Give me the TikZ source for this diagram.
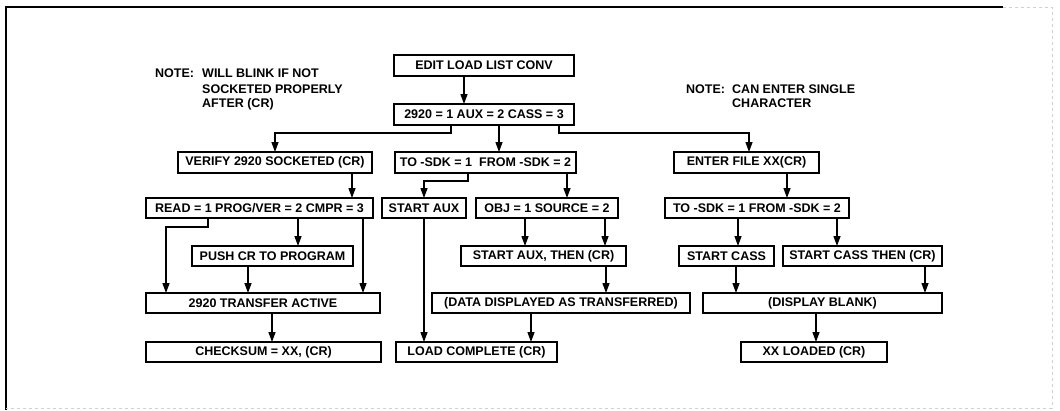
\documentclass[tikz,border=0pt]{standalone}
\usepackage{fontspec}
\setmainfont{Liberation Sans}
\usetikzlibrary{arrows.meta}
\begin{document}
\begin{tikzpicture}[x=1pt,y=-1pt,
  box/.style={draw=black, line width=1.9pt, fill=white, inner sep=0pt, outer sep=0pt,
    font=\bfseries\fontsize{12.5}{14}\selectfont, align=center},
  notetext/.style={inner sep=0pt, anchor=base west, font=\bfseries\fontsize{12.5}{14}\selectfont},
  arr/.style={draw=black, line width=1.3pt, -{Triangle[length=10pt,width=7pt]}},
  frame/.style={draw=black, line width=1.6pt},
  faint/.style={draw=black!18, line width=0.8pt, dashed}]
\useasboundingbox (0,0) rectangle (1060,410);
% frame
\draw[frame] (1003,7) -- (6,7) -- (6,410);
\draw[faint] (1003,7) -- (1052,7) -- (1052,408) -- (6,408);
% notes
\node[notetext] (n1a) at (155,77.5) {NOTE:};
\node[notetext] (n1b) at (202,77.5) {WILL BLINK IF NOT};
\node[notetext] (n1c) at (202,93) {SOCKETED PROPERLY};
\node[notetext] (n1d) at (202,107.5) {AFTER (CR)};
\node[notetext] (n2a) at (686,93) {NOTE:};
\node[notetext] (n2b) at (732,93) {CAN ENTER SINGLE};
\node[notetext] (n2c) at (732,107.5) {CHARACTER};
% boxes
\node[box, minimum width=180, minimum height=21] (edit) at (484,65.5) {EDIT LOAD LIST CONV};
\node[box, minimum width=180, minimum height=21] (sel) at (484,114.5) {2920 = 1 AUX = 2 CASS = 3};
\node[box, minimum width=194, minimum height=21] (verify) at (275,162.5) {VERIFY 2920 SOCKETED (CR)};
\node[box, minimum width=181, minimum height=21] (tosdka) at (485.5,162.5) {TO -SDK = 1\ \ FROM -SDK = 2};
\node[box, minimum width=145, minimum height=21] (enter) at (746.5,162.5) {ENTER FILE XX(CR)};
\node[box, minimum width=227, minimum height=20] (read) at (259.5,208) {READ = 1 PROG/VER = 2 CMPR = 3};
\node[box, minimum width=84, minimum height=20] (saux) at (424,208) {START AUX};
\node[box, minimum width=142, minimum height=20] (obj) at (547,208) {OBJ = 1 SOURCE = 2};
\node[box, minimum width=184, minimum height=20] (tosdkb) at (757,208) {TO -SDK = 1 FROM -SDK = 2};
\node[box, minimum width=161, minimum height=20] (push) at (272.5,256) {PUSH CR TO PROGRAM};
\node[box, minimum width=165, minimum height=20] (sauxt) at (543.5,256) {START AUX, THEN (CR)};
\node[box, minimum width=95, minimum height=20] (scass) at (726.5,256) {START CASS};
\node[box, minimum width=159, minimum height=20] (scasst) at (862.5,256) {START CASS THEN (CR)};
\node[box, minimum width=234, minimum height=20] (trans) at (263,303) {2920 TRANSFER ACTIVE};
\node[box, minimum width=258, minimum height=20] (data) at (561,303) {(DATA DISPLAYED AS TRANSFERRED)};
\node[box, minimum width=239, minimum height=20] (blank) at (822.5,303) {(DISPLAY BLANK)};
\node[box, minimum width=235, minimum height=20] (check) at (263.5,352) {CHECKSUM = XX, (CR)};
\node[box, minimum width=161, minimum height=20] (loadc) at (476.5,352) {LOAD COMPLETE (CR)};
\node[box, minimum width=146, minimum height=20] (xxl) at (814,352) {XX LOADED (CR)};
% connectors
\draw[arr] (edit.south -| 464,0) -- (sel.north -| 464,0);
\draw[arr] (sel.south -| 451,0) -- (451,133) -| (verify.north);
\draw[arr] (sel.south -| 499,0) -- (tosdka.north -| 499,0);
\draw[arr] (sel.south -| 559,0) -- (559,133) -| (enter.north -| 749,0);
\draw[arr] (verify.south -| 352,0) -- (read.north -| 352,0);
\draw[arr] (tosdka.south -| 468,0) -- (468,181) -| (saux.north);
\draw[arr] (tosdka.south -| 567,0) -- (obj.north -| 567,0);
\draw[arr] (enter.south -| 787,0) -- (tosdkb.north -| 787,0);
\draw[arr] (read.south -| 208,0) -- (208,227) -| (trans.north -| 166,0);
\draw[arr] (read.south -| 298,0) -- (push.north -| 298,0);
\draw[arr] (read.south -| 363,0) -- (trans.north -| 363,0);
\draw[arr] (push.south -| 248,0) -- (trans.north -| 248,0);
\draw[arr] (trans.south -| 272,0) -- (check.north -| 272,0);
\draw[arr] (saux.south) -- (loadc.north -| saux.south);
\draw[arr] (obj.south -| 525,0) -- (sauxt.north -| 525,0);
\draw[arr] (obj.south -| 605,0) -- (sauxt.north -| 605,0);
\draw[arr] (sauxt.south -| 606,0) -- (data.north -| 606,0);
\draw[arr] (data.south -| 531,0) -- (loadc.north -| 531,0);
\draw[arr] (tosdkb.south -| 738,0) -- (scass.north -| 738,0);
\draw[arr] (tosdkb.south -| 837,0) -- (scasst.north -| 837,0);
\draw[arr] (scass.south -| 736,0) -- (blank.north -| 736,0);
\draw[arr] (scasst.south -| 925,0) -- (blank.north -| 925,0);
\draw[arr] (blank.south -| 816,0) -- (xxl.north -| 816,0);
\end{tikzpicture}
\end{document}
